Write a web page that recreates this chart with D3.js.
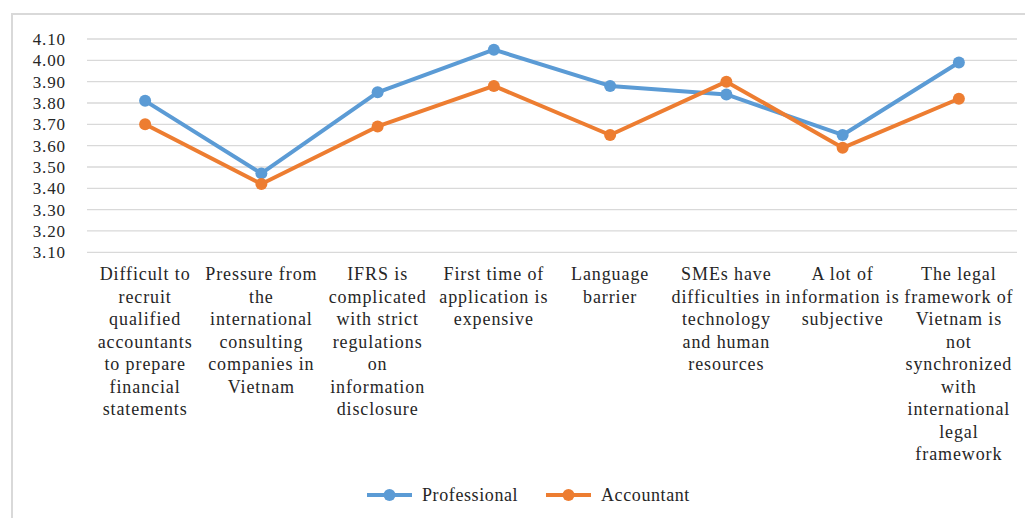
<!DOCTYPE html>
<html>
<head>
<meta charset="utf-8">
<script src="https://cdn.jsdelivr.net/npm/d3@7"></script>
<style>
  body { margin: 0; background: #fff; }
  svg { display: block; font-family: "Liberation Serif", "Times New Roman", serif; }
</style>
</head>
<body>
<div id="vis"></div>
<script>
var categories = [
  ["Difficult to", "recruit", "qualified", "accountants", "to prepare", "financial", "statements"],
  ["Pressure from", "the", "international", "consulting", "companies in", "Vietnam"],
  ["IFRS is", "complicated", "with strict", "regulations", "on", "information", "disclosure"],
  ["First time of", "application is", "expensive"],
  ["Language", "barrier"],
  ["SMEs have", "difficulties in", "technology", "and human", "resources"],
  ["A lot of", "information is", "subjective"],
  ["The legal", "framework of", "Vietnam is", "not", "synchronized", "with", "international", "legal", "framework"]
];
var professional = [3.81, 3.47, 3.85, 4.05, 3.88, 3.84, 3.65, 3.99];
var accountant   = [3.70, 3.42, 3.69, 3.88, 3.65, 3.90, 3.59, 3.82];
var yTicks = [3.10, 3.20, 3.30, 3.40, 3.50, 3.60, 3.70, 3.80, 3.90, 4.00, 4.10];
var seriesNames = ["Professional", "Accountant"];
var colours = ["#5b9bd5", "#ed7d31"];

var W = 1025, H = 518;
var margin = {top: 39, left: 87};
var width = 1017 - margin.left,
    height = 252.3 - margin.top;

var svg = d3.select("#vis").append("svg")
  .attr("width", W).attr("height", H);

// outer frame (left + top only visible)
svg.append("line").attr("x1", 12).attr("x2", 12).attr("y1", 13).attr("y2", H)
  .attr("stroke", "#d9d9d9").attr("stroke-width", 2);
svg.append("line").attr("x1", 11).attr("x2", W).attr("y1", 14).attr("y2", 14)
  .attr("stroke", "#d9d9d9").attr("stroke-width", 2);

var g = svg.append("g").attr("transform", "translate(" + margin.left + "," + margin.top + ")");

var x = d3.scaleBand().domain(d3.range(categories.length)).range([0, width]);
var y = d3.scaleLinear().domain([3.1, 4.1]).range([height, 0]);

// gridlines
g.selectAll(".grid").data(yTicks).enter().append("line")
  .attr("x1", 0).attr("x2", width)
  .attr("y1", function (d) { return y(d); })
  .attr("y2", function (d) { return y(d); })
  .attr("stroke", "#d9d9d9").attr("stroke-width", 1.3);

// y axis labels
var yAxis = d3.axisLeft(y).tickValues(yTicks).tickFormat(d3.format(".2f")).tickSize(0).tickPadding(21);
g.append("g").call(yAxis)
  .attr("font-family", "'Liberation Serif', serif")
  .attr("font-size", 17)
  .call(function (s) { s.select(".domain").remove(); })
  .selectAll("text")
  .style("letter-spacing", "0.9px")
  .attr("fill", "#262626");

// category labels
var xl = g.append("g").attr("transform", "translate(0," + height + ")");
categories.forEach(function (lines, i) {
  var t = xl.append("text")
    .attr("x", x(i) + x.bandwidth() / 2)
    .attr("y", 28)
    .attr("text-anchor", "middle")
    .style("font-size", "18px")
    .style("letter-spacing", "0.9px")
    .attr("fill", "#262626");
  lines.forEach(function (l, j) {
    t.append("tspan").attr("x", x(i) + x.bandwidth() / 2).attr("dy", j === 0 ? 0 : 22.5).text(l);
  });
});

var line = d3.line()
  .x(function (d, i) { return x(i) + x.bandwidth() / 2; })
  .y(function (d) { return y(d); });

[professional, accountant].forEach(function (vals, k) {
  g.append("path").datum(vals)
    .attr("d", line)
    .attr("fill", "none")
    .attr("stroke", colours[k])
    .attr("stroke-width", 4)
    .attr("stroke-linejoin", "round");
  g.selectAll(".pt" + k).data(vals).enter().append("circle")
    .attr("cx", function (d, i) { return x(i) + x.bandwidth() / 2; })
    .attr("cy", function (d) { return y(d); })
    .attr("r", 6)
    .attr("fill", colours[k]);
});

// legend
var legend = svg.append("g").attr("transform", "translate(0,495)");
var legX = [367, 546];
seriesNames.forEach(function (name, k) {
  var lg = legend.append("g").attr("transform", "translate(" + legX[k] + ",0)");
  lg.append("line").attr("x1", 0).attr("x2", 45).attr("y1", 0).attr("y2", 0)
    .attr("stroke", colours[k]).attr("stroke-width", 4);
  lg.append("circle").attr("cx", 22.5).attr("cy", 0).attr("r", 6).attr("fill", colours[k]);
  lg.append("text").attr("x", 55).attr("y", 6)
    .style("font-size", "18px").style("letter-spacing", "0.6px")
    .attr("fill", "#262626").text(name);
});
</script>
</body>
</html>
